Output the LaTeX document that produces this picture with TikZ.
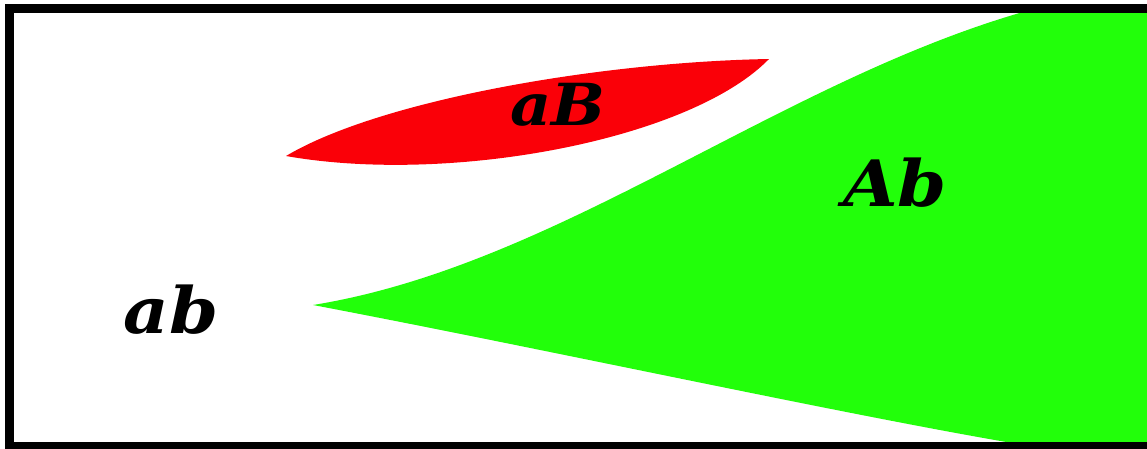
\documentclass[tikz,border=0pt]{standalone}
\usepackage{fontspec}
\usepackage{tikz}
\newfontfamily\genofont[FakeStretch=1.1]{DejaVu Serif}
\definecolor{Abgreen}{RGB}{34,255,10}
\definecolor{aBred}{RGB}{250,0,8}
\tikzset{geno/.style={font=\genofont\bfseries\itshape\fontsize{64}{64}\selectfont, anchor=base, inner sep=0pt}}

\begin{document}
\begin{tikzpicture}[x=1pt,y=-1pt]
\useasboundingbox (0,0) rectangle (1147,448);
\clip (0,0) rectangle (1147,448);
\fill[Abgreen] (313,305) .. controls (560,265) and (780,80) .. (1030,10) -- (1170,10) -- (1170,450) -- (1030,446) .. controls (860,418) and (550,350) .. (313,305) -- cycle;
\fill[aBred] (286,156) .. controls (380,100) and (600,62) .. (769,59) .. controls (690,140) and (450,185) .. (286,156) -- cycle;
\draw[line width=9pt] (9,8) rectangle (1170,446);
\node[geno] (ab) at (171,333) {ab};
\node[geno, font=\genofont\bfseries\itshape\fontsize{58}{58}\selectfont] (aB) at (558,125) {aB};
\node[geno] (Ab) at (895,206) {Ab};
\end{tikzpicture}
\end{document}
